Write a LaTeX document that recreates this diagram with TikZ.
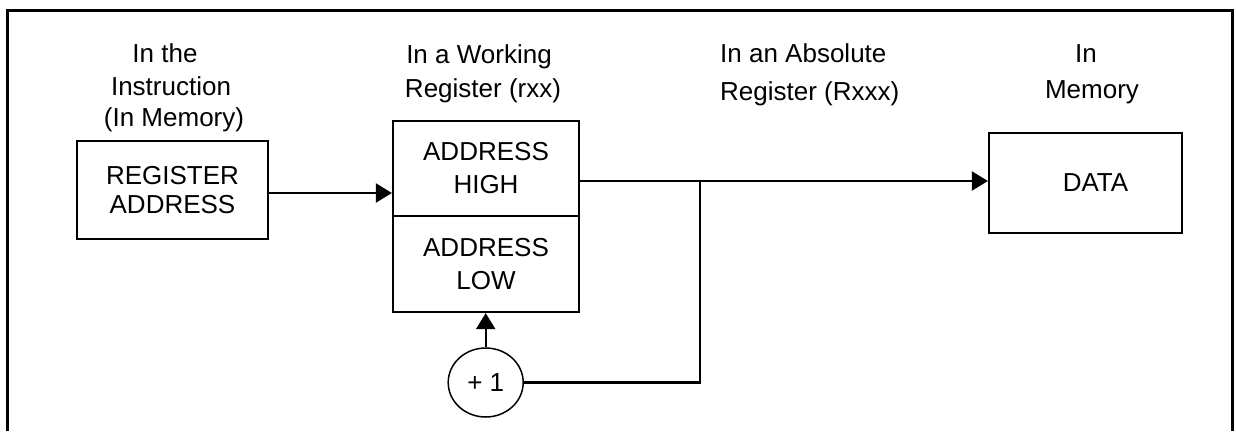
\documentclass[tikz,border=0pt]{standalone}
\usepackage{fontspec}
\setmainfont{Liberation Sans}
\usetikzlibrary{arrows.meta,shapes.geometric}
\tikzset{
  frameline/.style={line width=3pt, line join=miter},
  regbox/.style={draw, line width=2.2pt, inner sep=0pt, align=center,
    font=\fontsize{26}{28.3}\selectfont},
  wbox/.style={draw, line width=2.2pt, inner sep=0pt, align=center,
    font=\fontsize{26}{33}\selectfont},
  incnode/.style={ellipse, draw, line width=1.5pt, inner sep=0pt,
    font=\fontsize{26}{28}\selectfont},
  lbl/.style={inner sep=0pt, anchor=base, font=\fontsize{26}{28}\selectfont},
  conn/.style={line width=2.1pt},
  arr/.style={line width=2.1pt, -{Triangle[length=16pt,width=19pt]}},
}
\begin{document}
\begin{tikzpicture}[x=1pt,y=-1pt]
\useasboundingbox (0,0) rectangle (1236,431);
% outer frame (open at the bottom)
\draw[frameline] (7,431) -- (7,10) -- (1232,10) -- (1232,431);

% column labels
\node[lbl] (l1a) at (165,62) {In the};
\node[lbl] (l1b) at (171,95) {Instruction};
\node[lbl] (l1c) at (174,126) {(In Memory)};
\node[lbl] (l2a) at (479,63) {In a Working};
\node[lbl] (l2b) at (483,97) {Register (rxx)};
\node[lbl, anchor=base west] (l3a) at (720,62) {In an Absolute};
\node[lbl, anchor=base west] (l3b) at (720,100) {Register (Rxxx)};
\node[lbl] (l4a) at (1086,62) {In};
\node[lbl] (l4b) at (1092,98) {Memory};

% boxes
\node[regbox, minimum width=191pt, minimum height=98pt] (reg) at (172.5,190) {REGISTER\\ADDRESS};
\node[wbox, minimum width=186pt, minimum height=95pt] (hi) at (486,168.5) {ADDRESS\\HIGH};
\node[wbox, minimum width=186pt, minimum height=96pt] (lo) at (486,264) {ADDRESS\\LOW};
\node[regbox, minimum width=193pt, minimum height=100pt] (data) at (1085.5,183) {\hspace*{20pt}DATA};
\node[incnode, minimum width=75pt, minimum height=69pt] (inc) at (485.7,382.5) {+ 1};

% connectors
\coordinate (a1) at ([yshift=-3pt]reg.east);
\draw[arr] (a1) -- (a1 -| hi.west);
\coordinate (a2) at ([yshift=-12.5pt]hi.east);
\draw[arr] (a2) -- (a2 -| data.west);
\coordinate (j) at (700,181);
\draw[conn] (inc.east) -| (j);
\draw[arr] (inc.north) -- (inc.north |- lo.south);
\end{tikzpicture}
\end{document}
